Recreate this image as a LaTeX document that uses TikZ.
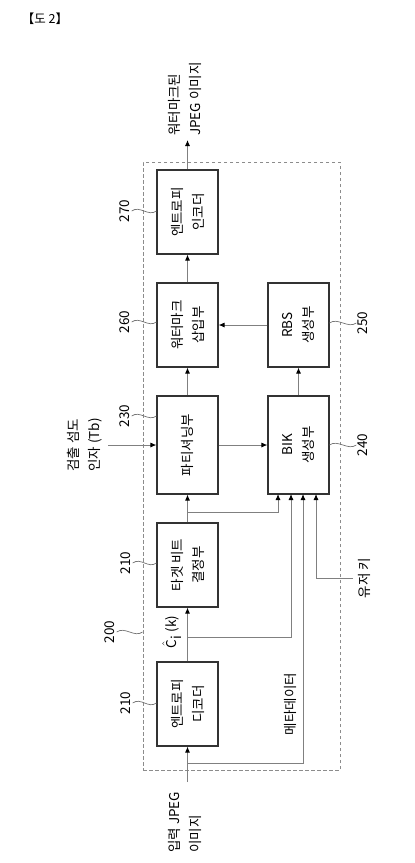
\documentclass[tikz,border=0pt]{standalone}
\usepackage{fontspec}
\setmainfont{Noto Sans CJK KR}
\usetikzlibrary{arrows.meta,calc}
\begin{document}
\begin{tikzpicture}[x=1pt,y=-1pt,
  box/.style={draw=black!80, line width=1.1pt, minimum width=61pt, inner sep=0pt},
  txt/.style={rotate=90, align=center, inner sep=0pt, font=\fontsize{13.5}{21}\selectfont},
  lbl/.style={rotate=90, inner sep=0pt, font=\fontsize{13.5}{21}\selectfont},
  num/.style={rotate=90, inner sep=1.5pt, font=\fontsize{13.5}{14}\selectfont},
  conn/.style={draw=black!50, line width=0.9pt},
  arr/.style={conn, -{Latex[length=6pt,width=5pt,color=black]}},
  sq/.style={draw=black!55, line width=0.7pt},
  frame/.style={draw=black!45, line width=0.9pt, dash pattern=on 3.5pt off 2.5pt, inner sep=0pt}
]
\useasboundingbox (0,0) rectangle (415,863);

% title
\node[font=\fontsize{12.5}{13}\selectfont] (title) at (45,19) {【도 2】};

% dashed frame
\node[frame, minimum width=197pt, minimum height=608pt] (fr) at (241.5,466) {};

% boxes
\node[box, minimum height=84pt] (b270) at (187.5,212) {};
\node[box, minimum height=84pt] (b260) at (187.5,325) {};
\node[box, minimum height=84pt] (b250) at (298.5,325) {};
\node[box, minimum height=98pt] (b230) at (187.5,445) {};
\node[box, minimum height=98pt] (b240) at (298.5,445) {};
\node[box, minimum height=84pt] (b220) at (187.5,565) {};
\node[box, minimum height=84pt] (b210) at (187.5,704) {};

\node[txt] (t270) at (b270) {엔트로피\\인코더};
\node[txt] (t260) at (b260) {워터마크\\삽입부};
\node[txt] (t250) at (b250) {RBS\\생성부};
\node[txt] (t230) at (b230) {파티셔닝부};
\node[txt] (t240) at (b240) {BIK\\생성부};
\node[txt] (t220) at (b220) {타겟 비트\\결정부};
\node[txt] (t210) at (b210) {엔트로피\\디코더};

% outer labels
\node[lbl, align=left, anchor=west] (lout) at (185,136) {워터마크된\\JPEG 이미지};
\node[lbl, align=left, anchor=west] (lin) at (185,853) {입력 JPEG\\이미지};
\node[lbl, align=left, anchor=west] (ltb) at (85,472) {검출 섬도\\인자 (Tb)};
\node[lbl] (luk) at (364,578) {유저 키};
\node[lbl] (lmd) at (290,704) {메타데이터};
\node[lbl] (lc) at (172,632) {$\hat{\textrm{C}}_{\textrm{i}}$ (k)};

% reference numbers
\node[num] (n270) at (125,211) {270};
\node[num] (n260) at (125,322) {260};
\node[num] (n230) at (125,416) {230};
\node[num] (n210a) at (126,563) {210};
\node[num] (n200) at (110,632) {200};
\node[num] (n210b) at (126,703) {210};
\node[num] (n250) at (363,323) {250};
\node[num] (n240) at (363,445) {240};

\draw[sq] (n270.south) .. controls +(8,-6) and +(-8,6) .. (b270.west |- n270.south);
\draw[sq] (n260.south) .. controls +(8,-6) and +(-8,6) .. (b260.west |- n260.south);
\draw[sq] (n230.south) .. controls +(8,-6) and +(-8,6) .. (b230.west |- n230.south);
\draw[sq] (n210a.south) .. controls +(8,-6) and +(-8,6) .. (b220.west |- n210a.south);
\draw[sq] (n200.south) .. controls +(8,-6) and +(-8,6) .. (fr.west |- n200.south);
\draw[sq] (n210b.south) .. controls +(8,-6) and +(-8,6) .. (b210.west |- n210b.south);
\draw[sq] (b250.east |- n250.north) .. controls +(8,-6) and +(-8,6) .. (n250.north);
\draw[sq] (b240.east |- n240.north) .. controls +(8,-6) and +(-8,6) .. (n240.north);

% coordinates
\coordinate (out) at (187.5,140);
\coordinate (in) at (187.5,782);
\coordinate (tb) at (108,445);
\coordinate (uk) at (353,578);
\coordinate (j1) at (187.5,512);
\coordinate (j2) at (187.5,637);
\coordinate (j3) at (187.5,763);
\coordinate (p1) at (278,494);
\coordinate (p2) at (291,494);
\coordinate (p3) at (303,494);
\coordinate (p4) at (316,494);

% connectors
\draw[arr] (b270.north) -- (out);
\draw[arr] (b260.north) -- (b270.south);
\draw[arr] (b250.west) -- (b260.east);
\draw[arr] (b230.north) -- (b260.south);
\draw[arr] (b240.north) -- (b250.south);
\draw[arr] (tb) -- (b230.west);
\draw[arr] (b230.east) -- (b240.west);
\draw[arr] (b220.north) -- (b230.south);
\draw[arr] (j1) -| (p1);
\draw[arr] (b210.north) -- (b220.south);
\draw[arr] (j2) -| (p2);
\draw[arr] (in) -- (b210.south);
\draw[arr] (j3) -| (p3);
\draw[arr] (uk) -| (p4);
\end{tikzpicture}
\end{document}
